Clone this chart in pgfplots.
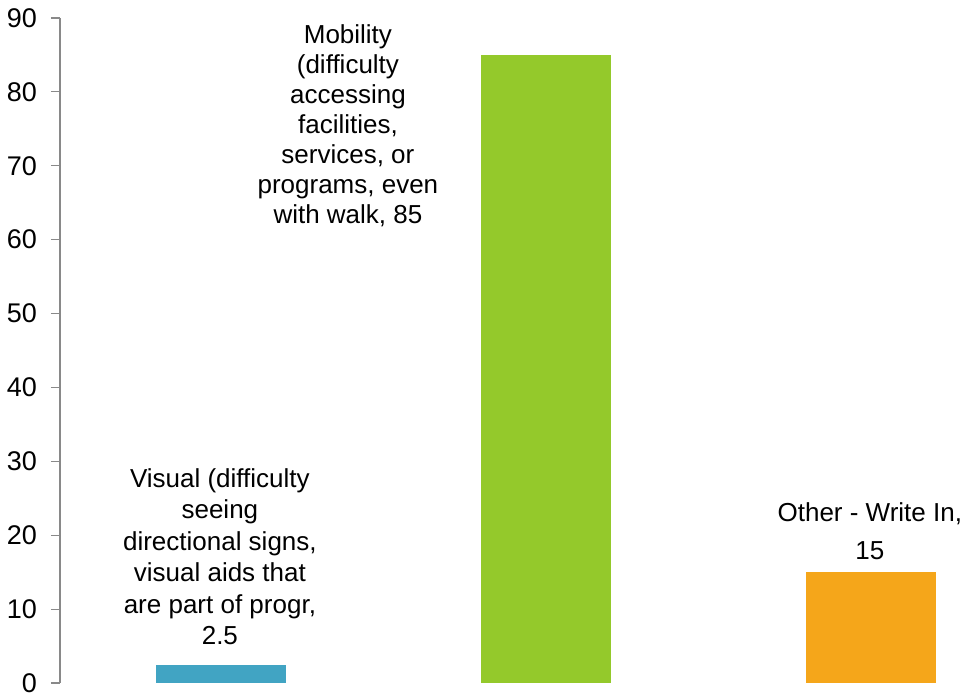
\documentclass[border=0pt]{standalone}
\usepackage{pgfplots}
\pgfplotsset{compat=1.18}
\usepackage{fontspec}
\setmainfont{Liberation Sans}
\definecolor{cblue}{HTML}{41A4C3}
\definecolor{cgreen}{HTML}{94C92B}
\definecolor{corange}{HTML}{F5A61A}
\definecolor{axgray}{HTML}{898989}
\begin{document}
\begin{tikzpicture}
\begin{axis}[
  scale only axis,
  width=906bp, height=665bp,
  xmin=-0.495, xmax=2.293,
  ymin=0, ymax=90,
  ytick={0,10,...,90},
  axis y line*=left,
  axis x line=none,
  y axis line style={draw=axgray, line width=1.2bp, -},
  ytick style={draw=axgray, line width=1.2bp},
  tick align=outside,
  major tick length=9bp,
  /pgf/number format/assume math mode=true,
  font=\fontsize{26bp}{30.5bp}\selectfont,
  yticklabel style={font=\fontsize{27bp}{31bp}\selectfont, anchor=east, inner sep=0pt, xshift=-14bp},
  clip=false,
]
\addplot[ybar, bar width=130bp, bar shift=0pt, fill=cblue, draw=none] coordinates {(0,2.5)};
\addplot[ybar, bar width=130bp, bar shift=0pt, fill=cgreen, draw=none] coordinates {(1,85)};
\addplot[ybar, bar width=130bp, bar shift=0pt, fill=corange, draw=none] coordinates {(2,15)};
\node[anchor=south, align=center, inner sep=0pt, font=\fontsize{26bp}{31.4bp}\selectfont] at (axis cs:-0.003,5.14) {Visual (difficulty\\seeing\\directional signs,\\visual aids that\\are part of progr,\\2.5};
\node[anchor=south, align=center, inner sep=0pt, font=\fontsize{26bp}{30bp}\selectfont] at (axis cs:0.391,61.7) {Mobility\\(difficulty\\accessing\\facilities,\\services, or\\programs, even\\with walk, 85};
\node[anchor=south, align=center, inner sep=0pt, font=\fontsize{26bp}{38bp}\selectfont] at (axis cs:1.997,16.64) {Other - Write In,\\15};
\end{axis}
\pgfresetboundingbox
\path[use as bounding box] (-60bp,-13bp) rectangle (906bp,683bp);
\end{tikzpicture}
\end{document}
